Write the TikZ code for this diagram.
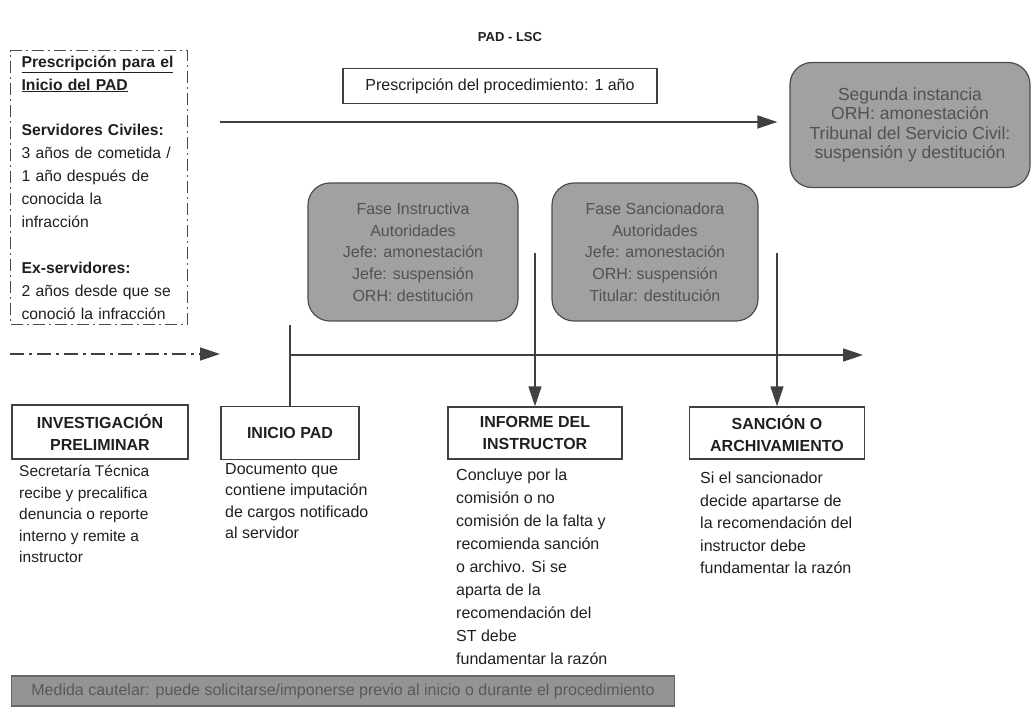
\documentclass[tikz,border=0pt]{standalone}
\usepackage{fontspec}
\setmainfont{Liberation Sans}
\usetikzlibrary{arrows.meta,positioning}
\newcommand{\fsz}[2]{\fontsize{#1}{#2}\selectfont}

\begin{document}
\begin{tikzpicture}[x=1pt, y=-1pt, font=\fsz{16}{22.5}, text=black!88,
    stage/.style={draw=black!75, line width=1.4pt, align=center, inner sep=2pt,
                  font=\fsz{16}{22}\bfseries},
    phase/.style={draw=black!70, fill=black!37, text=black!68, line width=1.2pt,
                  rounded corners=22pt, align=center, font=\fsz{16}{21.7}},
    note/.style={anchor=north west, align=left, inner sep=0pt},
    line/.style={draw=black!75, line width=1.5pt},
    arr/.style={line, -{Triangle[length=20pt,width=13pt]}}]
  \useasboundingbox (0,0) rectangle (1034,708);

  % --- title and prescription notes ---
  \node[font=\fsz{13}{15}\bfseries] (title) at (510,37) {PAD - LSC};
  \node[draw=black!70, line width=1.2pt, dash pattern=on 12pt off 4pt on 2pt off 4pt,
        anchor=north west, align=left, text width=155pt, inner xsep=11pt, inner ysep=5pt,
        font=\fsz{15.7}{22.9}]
    (presc) at (10,50)
    {\underline{\textbf{Prescripción para el}}\\
     \underline{\textbf{Inicio del PAD}}\\[22.9pt]
     \textbf{Servidores Civiles:}\\
     3 años de cometida /\\
     1 año después de\\
     conocida la\\
     infracción\\[22.9pt]
     \textbf{Ex-servidores:}\\
     2 años desde que se\\
     conoció la infracción};
  \node[draw=black!75, line width=1.3pt, minimum width=314pt, minimum height=35pt,
        font=\fsz{16}{18}] (proc) at (500,86) {Prescripción del procedimiento: 1 año};

  % --- authorities (shaded) ---
  \node[phase, minimum width=240pt, minimum height=125pt, font=\fsz{17.5}{19.5}] (seg) at (910,125)
    {Segunda instancia\\ORH: amonestación\\Tribunal del Servicio Civil:\\suspensión y destitución};
  \node[phase, minimum width=210pt, minimum height=138pt] (instr) at (413,252)
    {Fase Instructiva\\Autoridades\\Jefe: amonestación\\Jefe: suspensión\\ORH: destitución};
  \node[phase, minimum width=206pt, minimum height=138pt] (sanc) at (655,252)
    {Fase Sancionadora\\Autoridades\\Jefe: amonestación\\ORH: suspensión\\Titular: destitución};

  % --- stages of the procedure ---
  \node[stage, minimum width=176pt, minimum height=54pt] (inv) at (100,432)
    {INVESTIGACIÓN\\PRELIMINAR};
  \node[stage, minimum width=138pt, minimum height=53pt] (inicio) at (290,433) {INICIO PAD};
  \node[stage, minimum width=174pt, minimum height=52pt] (informe) at (535,433)
    {INFORME DEL\\INSTRUCTOR};
  \node[stage, minimum width=175pt, minimum height=52pt] (sancion) at (777,433)
    {SANCIÓN O\\ARCHIVAMIENTO};

  \node[note, font=\fsz{15.5}{21.5}] (invtxt) at (19,465)
    {Secretaría Técnica\\recibe y precalifica\\denuncia o reporte\\interno y remite a\\instructor};
  \node[note, font=\fsz{16}{21.5}] (iniciotxt) at (225,463)
    {Documento que\\contiene imputación\\de cargos notificado\\al servidor};
  \node[note, font=\fsz{16}{23}] (informetxt) at (456,469)
    {Concluye por la\\comisión o no\\comisión de la falta y\\recomienda sanción\\o archivo. Si se\\aparta de la\\recomendación del\\ST debe\\fundamentar la razón};
  \node[note] (sanciontxt) at (700,472)
    {Si el sancionador\\decide apartarse de\\la recomendación del\\instructor debe\\fundamentar la razón};

  \node[draw=black!60, fill=black!42, text=black!65, line width=1.2pt,
        minimum width=663pt, minimum height=30pt, font=\fsz{16}{18}] (cautelar) at (343,691)
    {Medida cautelar: puede solicitarse/imponerse previo al inicio o durante el procedimiento};

  % --- time lines and connectors ---
  \coordinate (p0) at (220,122);
  \draw[arr] (p0) -- ([xshift=-12pt]p0 -| seg.west);
  \coordinate (d0) at (10,354);
  \coordinate (d1) at (220,354);
  \draw[arr, dash pattern=on 14pt off 5pt on 3pt off 5pt] (d0) -- (d1);
  \coordinate (t0) at (290,355);
  \coordinate (t1) at (863,355);
  \draw[arr] (t0) -- (t1);
  \coordinate (v0) at (290,325);
  \draw[line] (v0) -- (inicio.north);
  \coordinate (a1) at (535,253);
  \draw[arr] (a1) -- (informe.north);
  \coordinate (a2) at (777,253);
  \draw[arr] (a2) -- (sancion.north);
\end{tikzpicture}
\end{document}
